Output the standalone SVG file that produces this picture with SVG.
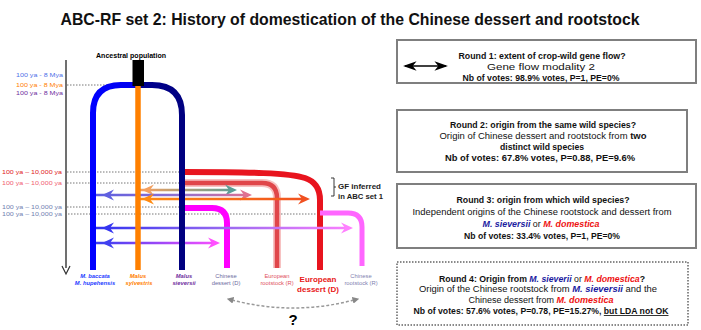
<svg xmlns="http://www.w3.org/2000/svg" xmlns:xlink="http://www.w3.org/1999/xlink" width="701" height="330" viewBox="0 0 701 330">
<style>
text{font-family:"Liberation Sans",Arial,sans-serif}
.b{font-weight:bold}
.i{font-style:italic}
.box{fill:#fff;stroke:#7f7f7f;stroke-width:2}
.bt{font-size:8.5px;text-anchor:middle;fill:#111}
.dot{stroke:#777;stroke-width:1;stroke-dasharray:1.5 1.5;fill:none}
.lin{fill:none;stroke-linecap:butt}
.ax{font-size:6px;text-anchor:end}
.lab{font-size:5.8px;text-anchor:middle}
.sh{fill:none;stroke-width:2.5}
</style>
<defs>
<path id="hd" d="M0,0 L-12,-5.5 L-8,0 L-12,5.5 Z"/>
<marker id="gh" viewBox="0 0 10 10" refX="2" refY="5" markerWidth="4.5" markerHeight="4.5" orient="auto-start-reverse" markerUnits="strokeWidth"><path d="M0,0 L10,5 L0,10 Z" fill="#888"/></marker>
<marker id="kh" viewBox="0 0 14 10" refX="12" refY="5" markerWidth="9" markerHeight="6.5" orient="auto-start-reverse" markerUnits="strokeWidth"><path d="M14,5 L0,0 L4,5 L0,10 Z" fill="#000"/></marker>
<linearGradient id="gA" gradientUnits="userSpaceOnUse" x1="142" y1="0" x2="237" y2="0"><stop offset="0" stop-color="#f3a060"/><stop offset="1" stop-color="#5a9e96"/></linearGradient>
<linearGradient id="gB" gradientUnits="userSpaceOnUse" x1="102" y1="0" x2="252" y2="0"><stop offset="0" stop-color="#6060e0"/><stop offset="0.5" stop-color="#9070d0"/><stop offset="1" stop-color="#e07090"/></linearGradient>
<linearGradient id="gC" gradientUnits="userSpaceOnUse" x1="142" y1="0" x2="310" y2="0"><stop offset="0" stop-color="#ff8a10"/><stop offset="1" stop-color="#f05020"/></linearGradient>
<linearGradient id="gD" gradientUnits="userSpaceOnUse" x1="102" y1="0" x2="353" y2="0"><stop offset="0" stop-color="#3535f0"/><stop offset="0.5" stop-color="#9a6af0"/><stop offset="1" stop-color="#ff80ff"/></linearGradient>
<linearGradient id="gE" gradientUnits="userSpaceOnUse" x1="102" y1="0" x2="220" y2="0"><stop offset="0" stop-color="#4040f0"/><stop offset="1" stop-color="#ff50ff"/></linearGradient>
<linearGradient id="gTop" gradientUnits="userSpaceOnUse" x1="93" y1="0" x2="182" y2="0"><stop offset="0" stop-color="#0000ff"/><stop offset="0.45" stop-color="#0000ee"/><stop offset="0.55" stop-color="#000090"/><stop offset="1" stop-color="#000080"/></linearGradient>
</defs>

<text class="b" x="350" y="25" font-size="16.5" text-anchor="middle" textLength="579" lengthAdjust="spacingAndGlyphs" fill="#111">ABC-RF set 2: History of domestication of the Chinese dessert and rootstock</text>

<!-- time axis -->
<g id="axis">
<line x1="66" y1="60" x2="66" y2="268" stroke="#404040" stroke-width="1.5"/>
<path d="M62,266 L66,274 L70,266" fill="none" stroke="#303030" stroke-width="1.2"/>
<text class="ax" x="63" y="77" fill="#4f6fe8" textLength="47" lengthAdjust="spacingAndGlyphs">100 ya - 8 Mya</text>
<text class="ax" x="63" y="87" fill="#ff8000" textLength="47" lengthAdjust="spacingAndGlyphs">100 ya - 8 Mya</text>
<text class="ax" x="63" y="95" fill="#7030a0" textLength="47" lengthAdjust="spacingAndGlyphs">100 ya - 8 Mya</text>
<text class="ax" x="62" y="174" fill="#e02020" textLength="60" lengthAdjust="spacingAndGlyphs">100 ya – 10,000 ya</text>
<text class="ax" x="62" y="185" fill="#f06070" textLength="60" lengthAdjust="spacingAndGlyphs">100 ya – 10,000 ya</text>
<text class="ax" x="62" y="209" fill="#7080b0" textLength="60" lengthAdjust="spacingAndGlyphs">100 ya – 10,000 ya</text>
<text class="ax" x="62" y="216" fill="#7080b0" textLength="60" lengthAdjust="spacingAndGlyphs">100 ya – 10,000 ya</text>
</g>

<g id="guides">
<line class="dot" x1="67" y1="85" x2="112" y2="85"/>
<line class="dot" x1="67" y1="172" x2="182" y2="172"/>
<line class="dot" x1="67" y1="183" x2="182" y2="183"/>
<line class="dot" x1="67" y1="207" x2="182" y2="207"/>
<line class="dot" x1="68" y1="214" x2="320" y2="214"/>
</g>

<!-- domesticated lineages -->
<g id="european-dessert"><path class="lin" d="M183,172 C250,172 290,173 305,178 Q320,183 320,200 V270" stroke="#e8141e" stroke-width="6"/></g>
<g id="european-rootstock">
<path class="lin" d="M183,183 H262 Q277,183 277,198 V268" stroke="#f4a8a8" stroke-width="8" opacity="0.7"/>
<path class="lin" d="M183,183 H262 Q277,183 277,198 V268" stroke="#e0464a" stroke-width="4.5"/>
</g>
<g id="chinese-dessert"><path class="lin" d="M183,208 H212 Q227,208 227,223 V268" stroke="#ff00ff" stroke-width="6"/></g>
<g id="chinese-rootstock"><path class="lin" d="M320,213 H348 Q362,213 362,227 V266" stroke="#ff66ff" stroke-width="5"/></g>

<!-- gene flow arrows -->
<g id="connectors">
<line class="sh" x1="136" y1="190" x2="231" y2="190" stroke="url(#gA)"/>
<use href="#hd" fill="#f3a060" transform="translate(142,190) rotate(180)"/>
<use href="#hd" fill="#5a9e96" transform="translate(237,190)"/>
<line class="sh" x1="96" y1="195" x2="246" y2="195" stroke="url(#gB)"/>
<use href="#hd" fill="#6060e0" transform="translate(102,195) rotate(180)"/>
<use href="#hd" fill="#e07090" transform="translate(252,195)"/>
<line class="sh" x1="136" y1="199" x2="304" y2="199" stroke="url(#gC)"/>
<use href="#hd" fill="#ff8a10" transform="translate(142,199) rotate(180)"/>
<use href="#hd" fill="#f05020" transform="translate(310,199)"/>
<line class="sh" x1="96" y1="228" x2="347" y2="228" stroke="url(#gD)"/>
<use href="#hd" fill="#3535f0" transform="translate(102,228) rotate(180)"/>
<use href="#hd" fill="#ff80ff" transform="translate(353,228)"/>
<line class="sh" x1="96" y1="243" x2="214" y2="243" stroke="url(#gE)"/>
<use href="#hd" fill="#4040f0" transform="translate(102,243) rotate(180)"/>
<use href="#hd" fill="#ff50ff" transform="translate(220,243)"/>
<path d="M232,300 Q293,316 354,300" fill="none" stroke="#999" stroke-width="1.5" stroke-dasharray="3 2" marker-start="url(#gh)" marker-end="url(#gh)"/>
</g>

<!-- wild lineages -->
<g id="wild-lineages">
<path class="lin" d="M93,270 V113 Q93,85 121,85 H152 Q182,85 182,115 V270" stroke="url(#gTop)" stroke-width="6"/>
<path class="lin" d="M93,270 V113" stroke="#0000ff" stroke-width="6"/>
<path class="lin" d="M182,115 V270" stroke="#000080" stroke-width="6"/>
<line x1="138" y1="86" x2="138" y2="270" stroke="#ff8000" stroke-width="5.5"/>
</g>
<g id="ancestral">
<rect x="132.5" y="60" width="11.5" height="26" fill="#000"/>
<text class="b" x="131" y="58" font-size="6.3" text-anchor="middle" textLength="70" lengthAdjust="spacingAndGlyphs" fill="#000">Ancestral population</text>
</g>

<g id="gf-bracket">
<path d="M331,178 H334 V196 H331 M334,187 H336" fill="none" stroke="#222" stroke-width="0.9"/>
<text class="b" x="338" y="189" font-size="7" fill="#222" textLength="43" lengthAdjust="spacingAndGlyphs">GF inferred</text>
<text class="b" x="338" y="199" font-size="7" fill="#222" textLength="45" lengthAdjust="spacingAndGlyphs">in ABC set 1</text>
</g>

<!-- lineage labels -->
<g id="labels">
<text class="lab b i" x="95" y="278" fill="#1f3cff">M. baccata</text>
<text class="lab b i" x="95" y="285" fill="#1f3cff">M. hupehensis</text>
<text class="lab b i" x="138" y="278" fill="#ff8000">Malus</text>
<text class="lab b i" x="139" y="285" fill="#ff8000">sylvestris</text>
<text class="lab b i" x="184" y="278" fill="#7030a0">Malus</text>
<text class="lab b i" x="184" y="285" fill="#7030a0">sieversii</text>
<text class="lab" x="226" y="278" fill="#6a6aa0">Chinese</text>
<text class="lab" x="226" y="285" fill="#6a6aa0">dessert (D)</text>
<text class="lab" x="277" y="278" fill="#e05060">European</text>
<text class="lab" x="277" y="285" fill="#e05060">rootstock (R)</text>
<text class="b" x="318" y="282" font-size="8" text-anchor="middle" fill="#e81818">European</text>
<text class="b" x="318" y="292" font-size="8" text-anchor="middle" fill="#e81818">dessert (D)</text>
<text class="lab" x="361" y="278" fill="#8080b0">Chinese</text>
<text class="lab" x="361" y="285" fill="#8080b0">rootstock (R)</text>
<text class="b" x="293" y="325" font-size="15" text-anchor="middle" fill="#000">?</text>
</g>

<!-- result boxes -->
<g id="round1">
<rect class="box" x="397" y="40" width="299" height="43"/>
<line x1="405" y1="66" x2="446" y2="66" stroke="#000" stroke-width="1.5" marker-start="url(#kh)" marker-end="url(#kh)"/>
<text class="bt b" x="542" y="59" textLength="167" lengthAdjust="spacingAndGlyphs">Round 1: extent of crop-wild gene flow?</text>
<text class="bt" x="541" y="70" textLength="108" lengthAdjust="spacingAndGlyphs">Gene flow modality 2</text>
<text class="bt b" x="541" y="81" textLength="157" lengthAdjust="spacingAndGlyphs">Nb of votes: 98.9% votes, P=1, PE=0%</text>
</g>
<g id="round2">
<rect class="box" x="397" y="110" width="290" height="62"/>
<text class="bt b" x="543" y="128" textLength="186" lengthAdjust="spacingAndGlyphs">Round 2: origin from the same wild species?</text>
<text class="bt" x="543" y="139" textLength="207" lengthAdjust="spacingAndGlyphs">Origin of Chinese dessert and rootstock from <tspan class="b">two</tspan></text>
<text class="bt b" x="542" y="150" textLength="84" lengthAdjust="spacingAndGlyphs">distinct wild species</text>
<text class="bt b" x="540" y="161" textLength="190" lengthAdjust="spacingAndGlyphs">Nb of votes: 67.8% votes, P=0.88, PE=9.6%</text>
</g>
<g id="round3">
<rect class="box" x="397" y="184" width="299" height="64"/>
<text class="bt b" x="543" y="203" textLength="173" lengthAdjust="spacingAndGlyphs">Round 3: origin from which wild species?</text>
<text class="bt" x="542" y="215" textLength="259" lengthAdjust="spacingAndGlyphs">Independent origins of the Chinese rootstock and dessert from</text>
<text class="bt" x="541" y="227" textLength="117" lengthAdjust="spacingAndGlyphs"><tspan class="b i" fill="#1a1aa0">M. sieversii</tspan> or <tspan class="b i" fill="#ee1111">M. domestica</tspan></text>
<text class="bt b" x="542" y="239" textLength="156" lengthAdjust="spacingAndGlyphs">Nb of votes: 33.4% votes, P=1, PE=0%</text>
</g>
<g id="round4">
<rect x="397" y="262" width="291" height="63" fill="#fff" stroke="#8a8a8a" stroke-width="2" stroke-dasharray="1.5 1.5"/>
<text class="bt b" x="542" y="282" textLength="206" lengthAdjust="spacingAndGlyphs">Round 4: Origin from <tspan class="i" fill="#1a1aa0">M. sieverii</tspan><tspan font-weight="normal"> or </tspan><tspan class="i" fill="#ee1111">M. domestica</tspan>?</text>
<text class="bt" x="538" y="292" textLength="238" lengthAdjust="spacingAndGlyphs">Origin of the Chinese rootstock from <tspan class="b i" fill="#1a1aa0">M. sieversii</tspan> and the</text>
<text class="bt" x="541" y="303" textLength="145" lengthAdjust="spacingAndGlyphs">Chinese dessert from <tspan class="b i" fill="#ee1111">M. domestica</tspan></text>
<text class="bt b" x="541" y="314" textLength="255" lengthAdjust="spacingAndGlyphs">Nb of votes: 57.6% votes, P=0.78, PE=15.27%, <tspan text-decoration="underline">but LDA not OK</tspan></text>
</g>
</svg>
